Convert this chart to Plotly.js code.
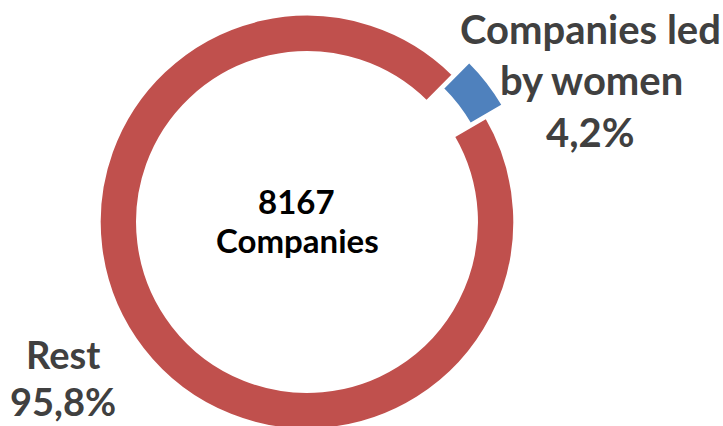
<!DOCTYPE html>
<html><head><meta charset="utf-8">
<script src="https://cdn.plot.ly/plotly-3.0.1.min.js"></script>
<style>html,body{margin:0;padding:0;background:#fff;overflow:hidden}#c{position:absolute;left:0;top:-6px;width:723px;height:456px}</style>
</head><body><div id="c"></div>
<script>
const categories = ["Companies led by women", "Rest"];
const shares = [4.2, 95.8];
const sliceColors = ["#4F81BD", "#C0504D"];
const centerLines = ["8167", "Companies"];
const womenLines = ["Companies led", "by women", "4,2%"];
const restLines = ["Rest", "95,8%"];

const W = 723, H = 456, OFF = 6;
const px = x => x / W;
const py = y => 1 - (y + OFF) / H;

function ann(text, x, y, size, color) {
  return {text: text, x: px(x), y: py(y), xref: 'paper', yref: 'paper',
    xanchor: 'center', yanchor: 'middle', showarrow: false,
    font: {family: 'Lato, "Open Sans", sans-serif', size: size, color: color, weight: 'bold'}};
}
const annotations = [
  ann("<b>" + centerLines[0] + "</b>", 296, 201, 33, "#000"),
  ann("<b>" + centerLines[1] + "</b>", 297, 240, 33, "#000"),
  ann("<b>" + womenLines[0] + "</b>", 590, 29, 40, "#404040"),
  ann("<b>" + womenLines[1] + "</b>", 591, 80, 40, "#404040"),
  ann("<b>" + womenLines[2] + "</b>", 590, 132, 40, "#404040"),
  ann("<b>" + restLines[0] + "</b>", 63, 354, 38, "#404040"),
  ann("<b>" + restLines[1] + "</b>", 63, 401, 38, "#404040")
];

const trace = {
  type: 'pie', labels: categories, values: shares, sort: false,
  direction: 'clockwise', rotation: 44.7, hole: 0.82,
  pull: [0.1, 0], textinfo: 'none', hoverinfo: 'label+percent',
  marker: {colors: sliceColors, line: {color: '#fff', width: 2}},
  domain: {x: [(307 - 228) / W, (307 + 228) / W], y: [0, 1]},
  showlegend: false
};
Plotly.newPlot('c', [trace], {
  width: W, height: H, margin: {l: 0, r: 0, t: 0, b: 0},
  paper_bgcolor: '#fff', showlegend: false, annotations: annotations
}, {staticPlot: true});
</script></body></html>
